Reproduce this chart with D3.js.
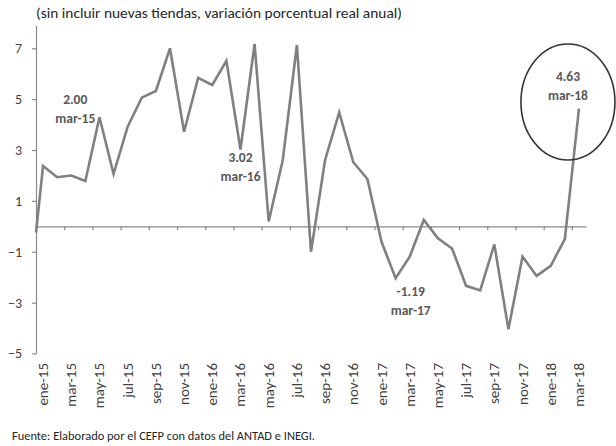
<!DOCTYPE html>
<html>
<head>
<meta charset="utf-8">
<script src="https://cdn.jsdelivr.net/npm/d3@7/dist/d3.min.js"></script>
<style>
  body { margin: 0; background: #fff; }
  svg { display: block; font-family: Carlito, Lato, "Open Sans", sans-serif; }
</style>
</head>
<body>
<div id="chart-area"></div>
<script>
// DATA
var months = ["ene-15","feb-15","mar-15","abr-15","may-15","jun-15","jul-15","ago-15","sep-15","oct-15","nov-15","dic-15",
  "ene-16","feb-16","mar-16","abr-16","may-16","jun-16","jul-16","ago-16","sep-16","oct-16","nov-16","dic-16",
  "ene-17","feb-17","mar-17","abr-17","may-17","jun-17","jul-17","ago-17","sep-17","oct-17","nov-17","dic-17",
  "ene-18","feb-18","mar-18"];
var values = [2.37, 1.93, 2.00, 1.78, 4.29, 2.06, 3.92, 5.06, 5.32, 7.00, 3.72, 5.84,
  5.56, 6.51, 3.02, 7.17, 0.19, 2.61, 7.13, -1.00, 2.61, 4.48, 2.52, 1.86,
  -0.61, -2.04, -1.19, 0.25, -0.47, -0.87, -2.34, -2.52, -0.71, -4.05, -1.19, -1.95,
  -1.55, -0.50, 4.63];
var leadIn = -0.25;   // line starts from the axis edge
var yTicks = [-5, -3, -1, 1, 3, 5, 7];
var noteMonths = ["mar-15", "mar-16", "mar-17", "mar-18"];
var noteValues = ["2.00", "3.02", "-1.19", "4.63"];
var subtitle = "(sin incluir nuevas tiendas, variación porcentual real anual)";
var source = "Fuente: Elaborado por el CEFP con datos del ANTAD e INEGI.";

// LAYOUT
var W = 616, H = 446;
var noteOffsets = [[4, -71], [0, 12], [1, 39], [-11, -28]];

var svg = d3.select('#chart-area')
  .append('svg')
  .attr('width', W)
  .attr('height', H);

// SCALES
var x = d3.scaleLinear()
  .domain([0, months.length])
  .range([36, 586]);

var y = d3.scaleLinear()
  .domain([-5, 7.9])
  .range([353.5, 25.4]);

// AXES
var yAxis = d3.axisLeft(y)
  .tickValues(yTicks)
  .tickSize(4)
  .tickSizeOuter(0)
  .tickPadding(10);
var yAxisGroup = svg.append('g')
  .attr('transform', 'translate(36,0)')
  .call(yAxis);
yAxisGroup.selectAll('path, line').attr('stroke', '#8a8a8a').attr('stroke-width', 1.2);
yAxisGroup.selectAll('text')
  .attr('fill', '#404040')
  .attr('font-size', '14px')
  .attr('font-family', 'Carlito, Lato, sans-serif');

var xAxis = d3.axisBottom(x)
  .tickValues(d3.range(0, months.length, 2))
  .tickFormat('')
  .tickSize(4)
  .tickSizeOuter(0);
var xAxisGroup = svg.append('g')
  .attr('transform', 'translate(0,' + y(0) + ')')
  .call(xAxis);
xAxisGroup.selectAll('path, line').attr('stroke', '#8a8a8a').attr('stroke-width', 1.2);

// X LABELS (every second month)
svg.append('g')
  .selectAll('text')
  .data(months.filter(function (d, i) { return i % 2 === 0; }))
  .enter()
  .append('text')
  .attr('transform', function (d) {
    var i = months.indexOf(d);
    return 'translate(' + (x(i + 0.5) + 5) + ',363) rotate(-90)';
  })
  .attr('text-anchor', 'end')
  .attr('font-size', '15px')
  .attr('fill', '#404040')
  .text(function (d) { return d; });

// LINE
var points = [[x(0), y(leadIn)]].concat(values.map(function (v, i) {
  return [x(i + 0.5), y(v)];
}));
svg.append('path')
  .attr('d', d3.line()(points))
  .attr('fill', 'none')
  .attr('stroke', '#808080')
  .attr('stroke-width', 2.6)
  .attr('stroke-linejoin', 'miter');

// ANNOTATIONS
noteMonths.forEach(function (m, k) {
  var i = months.indexOf(m);
  var cx = x(i + 0.5) + noteOffsets[k][0];
  var cy = y(values[i]) + noteOffsets[k][1];
  var g = svg.append('g')
    .attr('font-size', '13.5px')
    .attr('font-weight', 'bold')
    .attr('fill', '#595959')
    .attr('text-anchor', 'middle');
  g.append('text').attr('x', cx).attr('y', cy).text(noteValues[k]);
  g.append('text').attr('x', cx).attr('y', cy + 19).text(m);
});

// CIRCLE ROUND THE LAST VALUE
var last = months.length - 1;
svg.append('ellipse')
  .attr('cx', x(last + 0.5) - 11)
  .attr('cy', y(values[last]) - 6.5)
  .attr('rx', 47)
  .attr('ry', 58)
  .attr('fill', 'none')
  .attr('stroke', '#333')
  .attr('stroke-width', 1.6);

// TEXTS
svg.append('text')
  .attr('x', 36)
  .attr('y', 18)
  .attr('font-size', '13.5px')
  .attr('fill', '#262626')
  .attr('textLength', 366)
  .attr('lengthAdjust', 'spacingAndGlyphs')
  .text(subtitle);

svg.append('text')
  .attr('x', 12)
  .attr('y', 440)
  .attr('font-size', '11.5px')
  .attr('fill', '#262626')
  .attr('textLength', 303)
  .attr('lengthAdjust', 'spacingAndGlyphs')
  .text(source);
</script>
</body>
</html>
